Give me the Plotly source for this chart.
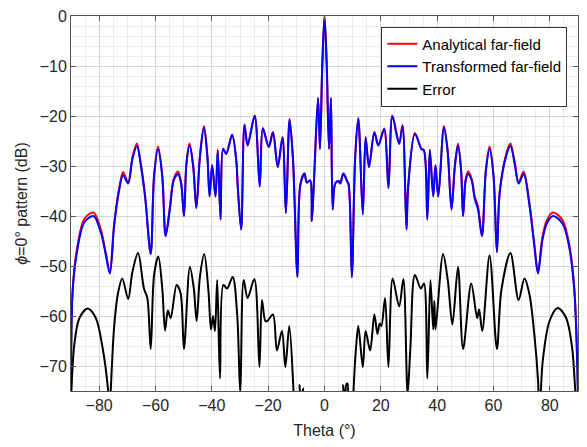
import plotly.graph_objects as go

# ---- data (theta in degrees, level in dB) ----
theta_pat = [-90, -89.4, -87.7, -85.3, -82, -79.4, -77.6, -76.2, -74.7, -72.9, -71.5, -69.7,
             -68.2, -66.6, -65.2, -63.7, -61.7, -60.5, -59.1, -57.6, -56.4, -54.9, -53.5, -52,
             -50.9, -49.9, -49, -47.9, -46.6, -45.5, -44.2, -42.8, -41.6, -40.8, -39.9, -38.7,
             -37.9, -36.9, -36.0, -34.9, -32.8, -31.3, -30.8, -29.6, -28.4, -27.3, -24.8, -23,
             -21.9, -19.8, -18.3, -16.6, -14.9, -13.7, -12.4, -11.2, -9.6, -8.6, -7.1, -6.3,
             -5.1, -4.5, -3.7, -2.3, -1.6, -0.8, 0, 0.8, 1.6, 2.3, 2.9, 3.8,
             5.0, 5.6, 6.7, 8.0, 8.6, 9.7, 10.9, 12.0, 13.6, 14.6, 15.8, 17.7,
             19.1, 21.2, 22.7, 24.1, 26.5, 27.7, 29.1, 29.7, 32.1, 34.4, 35.3, 36.5,
             37.4, 38.6, 39.4, 40.4, 42.4, 43.7, 45.1, 46.3, 47.4, 48.5, 49.2, 50.1, 51.0,
             52.3, 53.3, 54.5, 55.9, 57.3, 58.6, 60.0, 61.2, 62.2, 64.5, 66.0, 67.5, 68.9,
             70.7, 72.8, 74.5, 75.8, 77.3, 78.9, 81.1, 84.5, 86.8, 88.7, 90]
transformed = [-76, -55, -46.6, -41.3, -40, -43.3, -47.9, -51.5, -42, -34.8, -31.8, -33.5,
               -28.6, -26.0, -29.9, -36.1, -47.6, -32.1, -26.6, -32.1, -44, -38.7, -32.8, -31.6,
               -33.5, -40, -29.5, -25.9, -30.2, -38.4, -28, -22.3, -28, -36.1, -29.9, -36.1,
               -26.9, -40.7, -26.6, -27.6, -23.8, -29, -34.1, -42.7, -21.8, -25.9, -20, -34.1,
               -22.5, -26.2, -23.3, -30.2, -24.3, -39.4, -20.7, -28.5, -52.2, -33.8, -31.5, -33.3,
               -32.9, -41, -32.5, -16.4, -26.6, -10, 0, -10, -26.6, -16.4, -38.7, -33.5,
               -33, -33.5, -31.5, -33, -33.8, -52.2, -28.2, -20.5, -39.7, -24.3, -30.2, -23.3,
               -25.9, -22.6, -34.4, -20, -25.6, -22, -42.7, -34.1, -23.6, -26.6, -26.9, -40.7,
               -26.9, -36.1, -29.9, -36.1, -22.3, -27, -38.7, -30, -25.9, -31, -40, -33, -31.6,
               -33, -36.5, -38.7, -44, -31, -26.6, -32, -47.2, -35.4, -28, -26.0, -29.5, -33.5,
               -31.6, -38, -46, -51.5, -45, -41.5, -40, -41.5, -46, -55, -76]
analytical = [-76, -54.5, -46, -40.6, -39.3, -42.7, -47.5, -51.3, -41.7, -34.5, -31.2, -33.3,
              -28.3, -25.5, -29.6, -36, -47.6, -31.8, -26.1, -31.8, -44, -38.1, -32.5, -31.1,
              -33.3, -40, -29.2, -25.5, -30, -38.4, -27.8, -22.0, -27.9, -36.1, -29.8, -36.1,
              -26.7, -40.7, -26.5, -27.5, -23.7, -29, -34.1, -42.7, -21.7, -25.8, -19.9, -34.1,
              -22.4, -26.1, -23.2, -30.2, -24.2, -39.4, -20.6, -28.5, -52.2, -33.8, -31.5, -33.3,
              -32.9, -41, -32.5, -16.4, -26.6, -10, 0, -10, -26.6, -16.4, -38.7, -33.5,
              -33, -33.5, -31.5, -33, -33.8, -52.2, -28.2, -20.4, -39.7, -24.2, -30.2, -23.2,
              -25.8, -22.5, -34.4, -19.9, -25.5, -21.8, -42.7, -34.1, -23.4, -26.5, -26.8, -40.7,
              -26.7, -36.1, -29.8, -36.1, -22.0, -26.8, -38.7, -29.7, -25.5, -30.7, -40, -32.7, -31.1,
              -32.6, -36.0, -38.1, -44, -30.6, -26.1, -31.7, -47.2, -35.1, -27.6, -25.5, -29.1, -33.3,
              -31.1, -37.6, -45.7, -51.3, -44.5, -40.9, -39.3, -40.8, -45.4, -54.5, -76]

theta_err = [-90, -88.8, -87, -84.1, -81.2, -78.8, -76.8, -76.3, -75.9, -74.7, -73.3, -71.8,
             -69.7, -68.2, -66.2, -64.1, -62.9, -61.7, -60.5, -59, -57.6, -56.6, -55.6, -54.6,
             -52.5, -51.1, -49.9, -47.8, -46.4, -45.4, -44.2, -42.7, -41.2, -40.3, -39.6, -38.9,
             -38.1, -37.1, -35.9, -34.6, -32.6, -31.0, -29.9, -28.7, -27.3, -24.9, -23.1, -22.2,
             -21.0, -20.3, -18.3, -16.9, -15.1, -13.9, -12.5, -11.0, -10.6, -9.2, -8.8, -8.4,
             -7.6, -7.2, 6.2, 6.6, 7.0, 7.8, 8.2, 8.7, 10.0, 10.3, 11.2, 12.0,
             13.6, 14.6, 16.2, 17.7, 18.8, 19.6, 20.2, 21.5, 22.7, 24.2, 26.5, 28.0,
             29.5, 30.5, 32.1, 34.2, 35.3, 36.5, 37.6, 38.6, 39.0, 39.4, 42.1, 43.8, 45.4,
             47.4, 49.2, 52.1, 54.2, 54.9, 56.0, 58.6, 61.2, 62.8, 66.0, 68.9, 71.0,
             72.8, 74.6, 75.8, 76.3, 77.5, 79.9, 82.8, 85.8, 87.9, 89.3, 90]
error = [-77, -65.6, -60.4, -58.5, -60.4, -66.3, -75, -80, -75, -62.3, -55.4, -52.5,
         -56.6, -51.2, -47.4, -54.5, -56.4, -66.6, -51.8, -48.1, -54.5, -62.9, -58.9, -60.4,
         -53.8, -55.4, -66.6, -50.2, -54.5, -61, -52, -47.6, -55, -62.7, -60, -63,
         -52.8, -72.5, -53.8, -54.5, -52.2, -59.7, -75.5, -52.8, -56.4, -52.6, -70.2, -56.8,
         -61, -61, -59.7, -66.9, -63, -70.2, -62, -75, -80, -80, -73.8, -80,
         -74.5, -80, -80, -73.8, -80, -73.6, -73.5, -80, -80, -75, -66.3, -62,
         -70.2, -63, -66.9, -59.7, -63.6, -61.5, -62, -56.4, -70.2, -52.5, -58.1, -52.6,
         -75.5, -66.3, -51.8, -54.5, -53.5, -72.5, -52.8, -62.7, -57, -62.7, -47.6, -53, -61.7,
         -50.2, -66.6, -53.5, -60.4, -58.7, -63, -47.9, -66.6, -54.8, -47.4, -56.8, -52.5,
         -55.8, -64.3, -72.8, -80, -68.9, -61, -58.4, -60.4, -66.3, -77, -80]

x_ticks = [-80, -60, -40, -20, 0, 20, 40, 60, 80]
y_ticks = [0, -10, -20, -30, -40, -50, -60, -70]

FONT = "Liberation Sans, Arial, sans-serif"
TXT = "#262626"

fig = go.Figure()
fig.add_trace(go.Scatter(x=theta_pat, y=analytical, mode="lines", name="Analytical far-field",
                         line=dict(color="#ff0000", width=2, shape="spline", smoothing=0.9)))
fig.add_trace(go.Scatter(x=theta_pat, y=transformed, mode="lines", name="Transformed far-field",
                         line=dict(color="#0000ff", width=2, shape="spline", smoothing=0.9)))
fig.add_trace(go.Scatter(x=theta_err, y=error, mode="lines", name="Error",
                         line=dict(color="#000000", width=2, shape="spline", smoothing=0.9)))

axis_common = dict(
    showline=True, linecolor="#555555", linewidth=1, mirror="ticks",
    ticks="inside", ticklen=5, tickcolor="#555555",
    showgrid=True, gridcolor="#d6d6d6", gridwidth=1, zeroline=False,
    tickfont=dict(family=FONT, size=16, color=TXT),
)

fig.update_layout(
    width=587, height=447,
    margin=dict(l=71, r=8, t=10, b=56),
    paper_bgcolor="white", plot_bgcolor="white",
    font=dict(family=FONT, size=16, color=TXT),
    showlegend=True,
    legend=dict(x=0.979, y=0.972, xanchor="right", yanchor="top",
                bgcolor="white", bordercolor="#333333", borderwidth=1,
                font=dict(family=FONT, size=15, color="#000000"),
                tracegroupgap=0, itemwidth=30),
    xaxis=dict(range=[-90, 90], tickvals=x_ticks,
               title=dict(text="Theta (°)", font=dict(family=FONT, size=16, color=TXT), standoff=11),
               minor=dict(dtick=5, showgrid=True, gridcolor="#ebebeb", ticks=""),
               **axis_common),
    yaxis=dict(range=[-75, 0], tickvals=y_ticks,
               title=dict(text="<i>ϕ</i>=0° pattern (dB)", font=dict(family=FONT, size=16, color=TXT), standoff=8),
               minor=dict(dtick=2, showgrid=True, gridcolor="#ebebeb", ticks=""),
               **axis_common),
)

fig.write_html("out.html")
